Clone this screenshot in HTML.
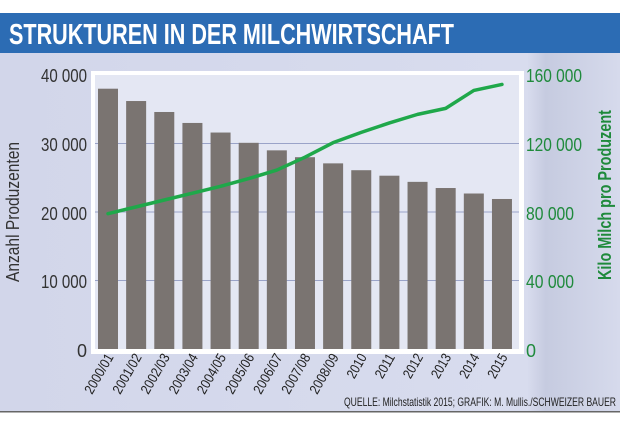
<!DOCTYPE html>
<html><head><meta charset="utf-8"><style>
body{margin:0;width:620px;height:420px;overflow:hidden;background:#fff}
svg text{font-family:"Liberation Sans Narrow","Liberation Sans",sans-serif}
</style></head><body>
<svg width="620" height="420" viewBox="0 0 620 420" xmlns="http://www.w3.org/2000/svg">
<defs>
<linearGradient id="bg" x1="0" y1="0" x2="1" y2="0">
<stop offset="0" stop-color="#d2d6ea"/><stop offset="0.85" stop-color="#d8dcee"/><stop offset="0.88" stop-color="#c6cbe0"/><stop offset="1" stop-color="#d6daec"/>
</linearGradient>
</defs>
<rect x="0" y="52" width="620" height="360" fill="url(#bg)"/>
<rect x="0" y="411" width="620" height="1.5" fill="#666"/>
<rect x="0" y="13" width="620" height="40" fill="#2c6cb4"/>
<text x="9" y="44" font-size="29" font-weight="bold" fill="#fff" textLength="445" lengthAdjust="spacingAndGlyphs">STRUKTUREN IN DER MILCHWIRTSCHAFT</text>
<rect x="91" y="71" width="433" height="283" fill="#fff"/>
<rect x="95" y="75" width="424" height="274" fill="#e4e7f3"/>
<g stroke="#9aa3c8" stroke-width="1">
<line x1="95" y1="143.5" x2="519" y2="143.5"/><line x1="95" y1="212" x2="519" y2="212"/><line x1="95" y1="280.5" x2="519" y2="280.5"/>
</g>
<g fill="#7a7471" id="bars"></g>
<polyline id="ln" fill="none" stroke="#1fa84a" stroke-width="3.5" stroke-linejoin="round" stroke-linecap="round"/>
<g font-size="18" fill="#333" text-anchor="end" lengthAdjust="spacingAndGlyphs">
<text x="87" y="82" textLength="46" lengthAdjust="spacingAndGlyphs">40 000</text><text x="87" y="151" textLength="46" lengthAdjust="spacingAndGlyphs">30 000</text><text x="87" y="220" textLength="46" lengthAdjust="spacingAndGlyphs">20 000</text><text x="87" y="288" textLength="46" lengthAdjust="spacingAndGlyphs">10 000</text><text x="87" y="357">0</text>
</g>
<g font-size="18" fill="#1f8a3c">
<text x="526" y="82" textLength="56" lengthAdjust="spacingAndGlyphs">160 000</text><text x="526" y="151" textLength="56" lengthAdjust="spacingAndGlyphs">120 000</text><text x="526" y="220" textLength="48" lengthAdjust="spacingAndGlyphs">80 000</text><text x="526" y="288" textLength="48" lengthAdjust="spacingAndGlyphs">40 000</text><text x="526" y="357">0</text>
</g>
<text transform="translate(19,212) rotate(-90)" font-size="18" fill="#333" text-anchor="middle" textLength="140" lengthAdjust="spacingAndGlyphs">Anzahl Produzenten</text>
<text transform="translate(611,195) rotate(-90)" font-size="18" font-weight="bold" fill="#1f8a3c" text-anchor="middle" textLength="170" lengthAdjust="spacingAndGlyphs">Kilo Milch pro Produzent</text>
<g id="xl" font-size="14" fill="#222" text-anchor="end"></g>
<text x="616" y="406" font-size="12" fill="#222" text-anchor="end" textLength="272" lengthAdjust="spacingAndGlyphs">QUELLE: Milchstatistik 2015; GRAFIK: M. Mullis./SCHWEIZER BAUER</text>
<script>
var b=[38000,36200,34600,33000,31600,30100,29000,28000,27100,26100,25300,24400,23500,22700,21900];
var l=[79000,83000,87000,91000,95000,99500,104500,112000,120500,126500,132000,137000,140500,151000,154500];
var lab=["2000/01","2001/02","2002/03","2003/04","2004/05","2005/06","2006/07","2007/08","2008/09","2010","2011","2012","2013","2014","2015"];
var ns="http://www.w3.org/2000/svg",g=document.getElementById("bars"),xl=document.getElementById("xl"),pts=[];
for(var i=0;i<15;i++){var c=108+i*28.14;var y=349-b[i]/40000*274;
var r=document.createElementNS(ns,"rect");r.setAttribute("x",c-10);r.setAttribute("y",y);r.setAttribute("width",20);r.setAttribute("height",349-y);g.appendChild(r);
pts.push(c+","+(349-l[i]/160000*274));
var t=document.createElementNS(ns,"text");t.setAttribute("transform","translate("+(c+6)+",357) rotate(-60)");
t.setAttribute("textLength",lab[i].length>4?44:26);t.setAttribute("lengthAdjust","spacingAndGlyphs");t.textContent=lab[i];xl.appendChild(t);}
document.getElementById("ln").setAttribute("points",pts.join(" "));
</script>
</svg>
</body></html>
